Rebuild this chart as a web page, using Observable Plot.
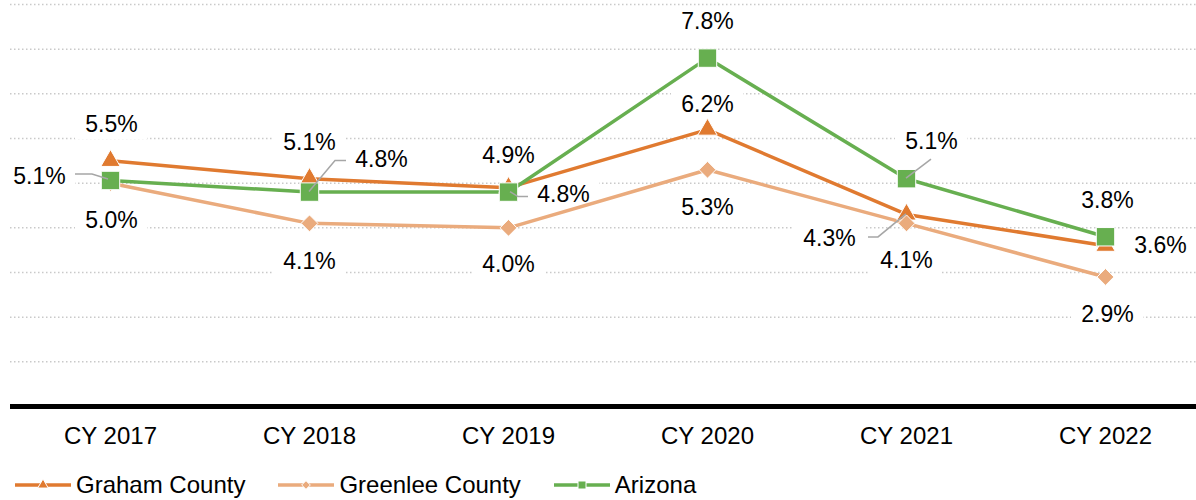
<!DOCTYPE html>
<html>
<head>
<meta charset="utf-8">
<script src="https://cdn.jsdelivr.net/npm/d3@7"></script>
<script src="https://cdn.jsdelivr.net/npm/@observablehq/plot@0.6"></script>
<style>
  html, body { margin: 0; padding: 0; background: #fff; }
  body { width: 1196px; height: 500px; overflow: hidden; font-family: "Liberation Sans", Arial, sans-serif; }
  #legend { display: flex; align-items: center; height: 40px; margin-top: 5px; margin-left: 15px; font-size: 24px; color: #000; }
  .item { display: flex; align-items: center; margin-right: 33px; }
  .item svg { margin-right: 5px; }
</style>
</head>
<body>
<div id="chart"></div>
<div id="legend"></div>
<script>
// ---- data ----
const years = ["CY 2017", "CY 2018", "CY 2019", "CY 2020", "CY 2021", "CY 2022"];
const seriesNames = ["Graham County", "Greenlee County", "Arizona"];
const graham = [5.5, 5.1, 4.9, 6.2, 4.3, 3.6];
const greenlee = [5.0, 4.1, 4.0, 5.3, 4.1, 2.9];
const arizona = [5.06, 4.8, 4.8, 7.8, 5.1, 3.8];
const gridValues = [1, 2, 3, 4, 5, 6, 7, 8, 9];

// ---- style ----
const colors = ["#E07A30", "#EAAB7D", "#67AF50"];
const symbols = ["triangle", "diamond2", "square"];
const radii = [7.2, 7.6, 10.4];
const font = "'Liberation Sans', Arial, sans-serif";
// label center offsets (px) from each marker
const labelOffsets = [
  [[1, -36], [0, -36], [0, -32], [0, -25], [-77, 24], [55, 0]],
  [[1, 37], [0, 38], [0, 37], [0, 38], [0, 37], [2, 38]],
  [[-71, -4], [72, -32], [55, 3], [0, -36], [25, -37], [2, -36]]
];
// leader lines (px offsets from marker)
const leaders = [
  {s: 2, j: 0, pts: [[-35, -6], [-18, -6], [-2, -1]]},
  {s: 2, j: 1, pts: [[37, -31], [26, -31], [0, 0]]},
  {s: 2, j: 2, pts: [[20, 5], [10, 5], [2, 0]]},
  {s: 2, j: 4, pts: [[25, -19], [0, 0]]},
  {s: 0, j: 4, pts: [[-38, 23], [-28, 23], [0, 0]]}
];

const seriesValues = [graham, greenlee, arizona];
const rows = [];
seriesNames.forEach((s, i) => years.forEach((y, j) => rows.push({series: s, si: i, year: y, yi: j, value: seriesValues[i][j]})));
const fmt = v => (Math.round(v * 10) / 10).toFixed(1) + "%";

const boxes = (index, scales) => {
  const g = d3.create("svg:g");
  rows.forEach(r => {
    const o = labelOffsets[r.si][r.yi];
    const cx = scales.x(r.year) + o[0], cy = scales.y(r.value) + o[1];
    g.append("rect").attr("x", cx - 36).attr("y", cy - 15).attr("width", 72).attr("height", 30).attr("fill", "white");
  });
  return g.node();
};
const leaderMark = (index, scales) => {
  const g = d3.create("svg:g");
  leaders.forEach(l => {
    const v = seriesValues[l.s][l.j];
    const x0 = scales.x(years[l.j]), y0 = scales.y(v);
    g.append("path")
      .attr("d", d3.line()(l.pts.map(p => [x0 + p[0], y0 + p[1]])))
      .attr("fill", "none").attr("stroke", "#A6A6A6").attr("stroke-width", 1.5);
  });
  return g.node();
};

const marks = [
  Plot.ruleY(gridValues, {stroke: "#C9C9C9", strokeWidth: 1.5, strokeDasharray: "1.5,2.5"}),
  boxes,
  Plot.ruleY([0], {stroke: "#000", strokeWidth: 5}),
  Plot.axisX({tickSize: 0, tickPadding: 20, fontSize: 24, label: null, fill: "#000"}),
  Plot.line(rows, {x: "year", y: "value", z: "series", stroke: "series", strokeWidth: 3.5})
];
seriesNames.forEach((s, i) => {
  marks.push(Plot.dot(rows.filter(r => r.si === i), {x: "year", y: "value", symbol: () => symbols[i], fill: colors[i], stroke: "white", strokeWidth: 1, r: radii[i]}));
});
marks.push(leaderMark);
rows.forEach(r => {
  const o = labelOffsets[r.si][r.yi];
  marks.push(Plot.text([r], {x: "year", y: "value", text: d => fmt(d.value), dx: o[0], dy: o[1], fontSize: 23, fill: "#000"}));
});

const chart = Plot.plot({
  width: 1196,
  height: 460,
  marginLeft: 10,
  marginRight: 0,
  marginTop: 4,
  marginBottom: 54,
  style: {fontFamily: font, color: "#000", background: "white"},
  x: {type: "point", domain: years, padding: 0.5, insetRight: -9},
  y: {domain: [0, 9], axis: null},
  color: {domain: seriesNames, range: colors},
  marks
});
document.getElementById("chart").appendChild(chart);

// legend
const legend = document.getElementById("legend");
const symMap = {triangle: d3.symbolTriangle, diamond2: d3.symbolDiamond2, square: d3.symbolSquare};
seriesNames.forEach((s, i) => {
  const item = document.createElement("div");
  item.className = "item";
  const svg = d3.create("svg").attr("width", 56).attr("height", 20);
  svg.append("line").attr("x1", 0).attr("x2", 56).attr("y1", 10).attr("y2", 10).attr("stroke", colors[i]).attr("stroke-width", 3.5);
  svg.append("path").attr("transform", "translate(28,10)").attr("d", d3.symbol(symMap[symbols[i]], i === 2 ? 64 : 48)()).attr("fill", colors[i]).attr("stroke", "white").attr("stroke-width", 1);
  item.appendChild(svg.node());
  const t = document.createElement("span");
  t.textContent = s;
  item.appendChild(t);
  legend.appendChild(item);
});
</script>
</body>
</html>
